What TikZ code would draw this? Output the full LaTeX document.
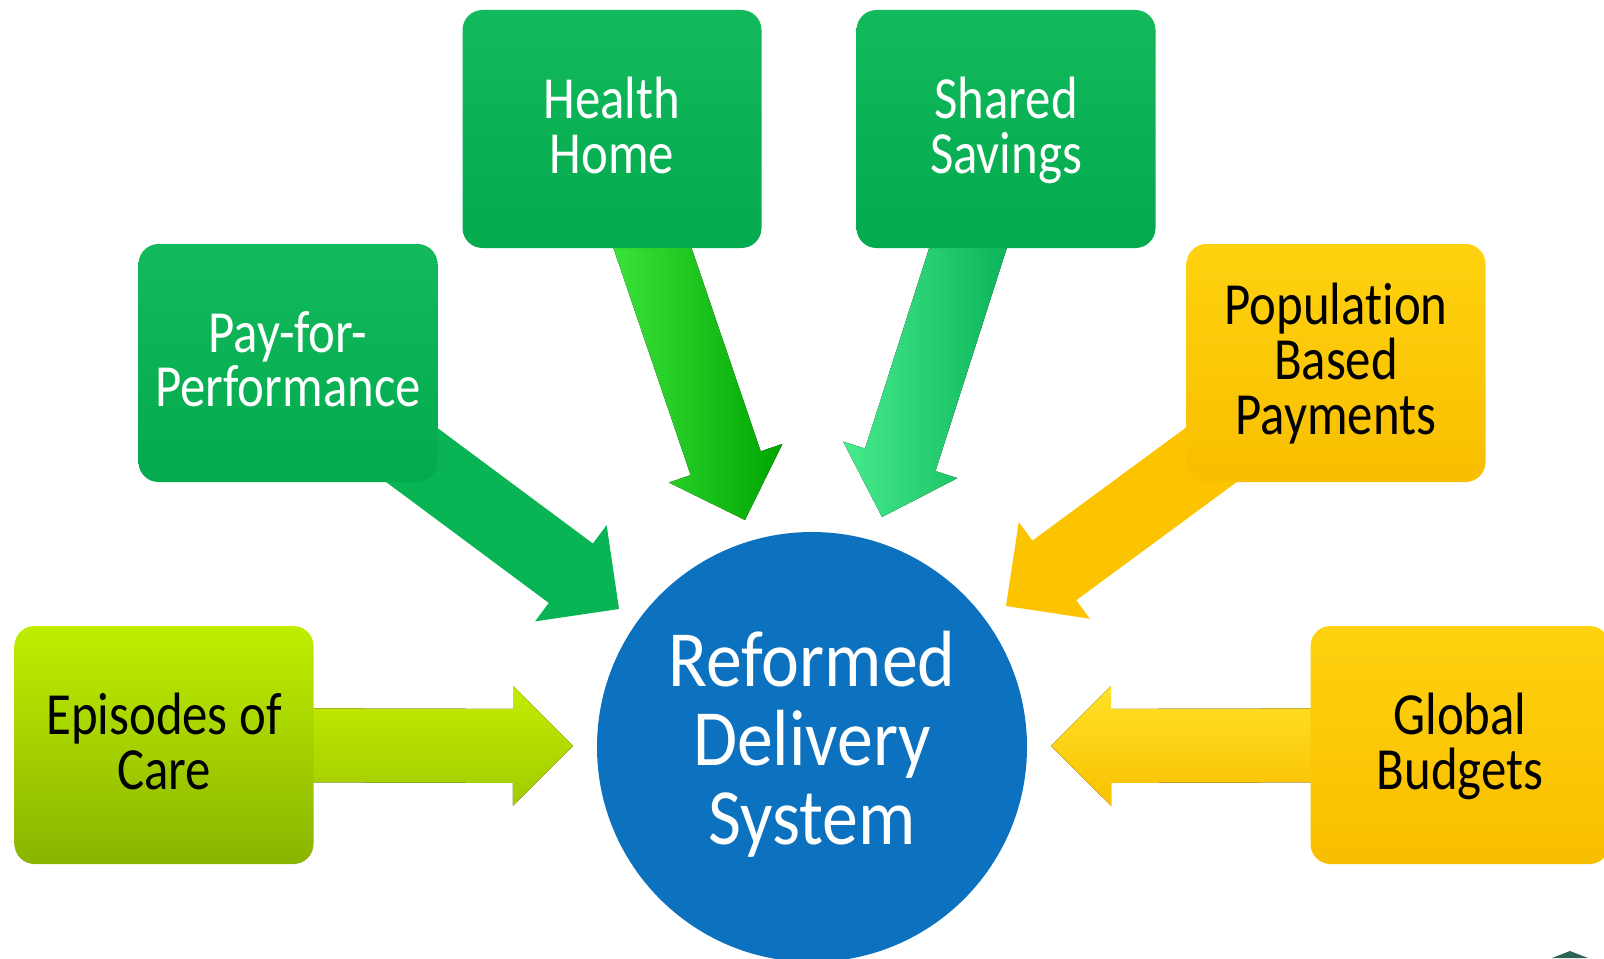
\documentclass[tikz,border=0pt]{standalone}
\usepackage{fontspec}
\setmainfont{Carlito}[FakeStretch=0.85,Ligatures=NoCommon]
\newfontfamily\hubfamily{Carlito}[FakeStretch=0.9,Ligatures=NoCommon]
\usepackage{tikz}
\usetikzlibrary{positioning,calc,backgrounds}

\definecolor{boxgreentop}{RGB}{18,186,92}
\definecolor{boxgreenbot}{RGB}{4,170,78}
\definecolor{limetop}{RGB}{192,238,0}
\definecolor{limebot}{RGB}{138,180,0}
\definecolor{goldtop}{RGB}{255,210,16}
\definecolor{goldbot}{RGB}{248,190,0}
\definecolor{circblue}{RGB}{12,114,192}
\definecolor{arrgreen}{RGB}{8,180,84}
\definecolor{arrlimetop}{RGB}{196,236,0}
\definecolor{arrlimebot}{RGB}{160,204,0}
\definecolor{arrhhleft}{RGB}{70,240,70}
\definecolor{arrhhright}{RGB}{0,165,0}
\definecolor{arrssleft}{RGB}{70,235,140}
\definecolor{arrssright}{RGB}{0,170,80}
\definecolor{arrgold}{RGB}{252,196,0}
\definecolor{arrgoldtop}{RGB}{255,226,40}
\definecolor{arrgoldbot}{RGB}{250,192,0}
\definecolor{cornerteal}{RGB}{45,100,85}

\newcommand{\boxfont}{\fontsize{60}{55}\selectfont}
\newcommand{\bigfont}{\hubfamily\fontsize{80}{79}\selectfont}

% fat arrow from #1 to #2, fill style #3
\newcommand{\fatarrow}[3]{%
  \coordinate (hb) at ($(#2)!60bp!(#1)$);
  \fill[#3] ($(#1)!37bp!90:(#2)$) -- ($(hb)!37bp!90:(#2)$) -- ($(hb)!60bp!90:(#2)$)
    -- (#2) -- ($(hb)!60bp!-90:(#2)$) -- ($(hb)!37bp!-90:(#2)$) -- ($(#1)!37bp!-90:(#2)$) -- cycle;}

\begin{document}
\begin{tikzpicture}[x=1bp,y=-1bp,
    modelbox/.style={rounded corners=20bp, minimum width=299bp, minimum height=238bp,
      inner sep=0pt, align=center, font=\boxfont, text depth=8bp},
    greenbox/.style={modelbox, top color=boxgreentop, bottom color=boxgreenbot, text=white},
    limebox/.style={modelbox, top color=limetop, bottom color=limebot, text=black},
    goldbox/.style={modelbox, top color=goldtop, bottom color=goldbot, text=black},
    hub/.style={circle, fill=circblue, minimum size=430bp, inner sep=0pt, align=center,
      text=white, font=\bigfont, text depth=18bp},
    eparrow/.style={top color=arrlimetop, bottom color=arrlimebot},
    pfparrow/.style={fill=arrgreen},
    hharrow/.style={left color=arrhhleft, right color=arrhhright},
    ssarrow/.style={left color=arrssleft, right color=arrssright},
    poparrow/.style={fill=arrgold},
    gbarrow/.style={top color=arrgoldtop, bottom color=arrgoldbot}]
  \useasboundingbox (0,0) rectangle (1604,958);

  % payment models
  \node[limebox] (ep) at (164,745) {Episodes of\\Care};
  \node[greenbox] (pfp) at (288,363) {Pay-for-\\Performance};
  \node[greenbox] (hh) at (612,129) {Health\\Home};
  \node[greenbox] (ss) at (1006,129) {Shared\\Savings};
  \node[goldbox] (pop) at (1336,363) {Population\\Based\\Payments};
  \node[goldbox] (gb) at (1460,745) {Global\\Budgets};

  % centre
  \node[hub] (rds) at (812,747) {Reformed\\Delivery\\System};

  % arrow tips
  \coordinate (ep-tip) at (573,746);
  \coordinate (pfp-tip) at (619,609);
  \coordinate (hh-tip) at (745,520);
  \coordinate (ss-tip) at (882,517);
  \coordinate (pop-tip) at (1006,606);
  \coordinate (gb-tip) at (1051,746);

  \begin{pgfonlayer}{background}
    \foreach \src in {ep,pfp,hh,ss,pop,gb}
      {\fatarrow{\src}{\src-tip}{\src arrow}}
  \end{pgfonlayer}

  \fill[cornerteal] (1552,958) -- (1570,951) -- (1588,958) -- cycle;
\end{tikzpicture}
\end{document}
